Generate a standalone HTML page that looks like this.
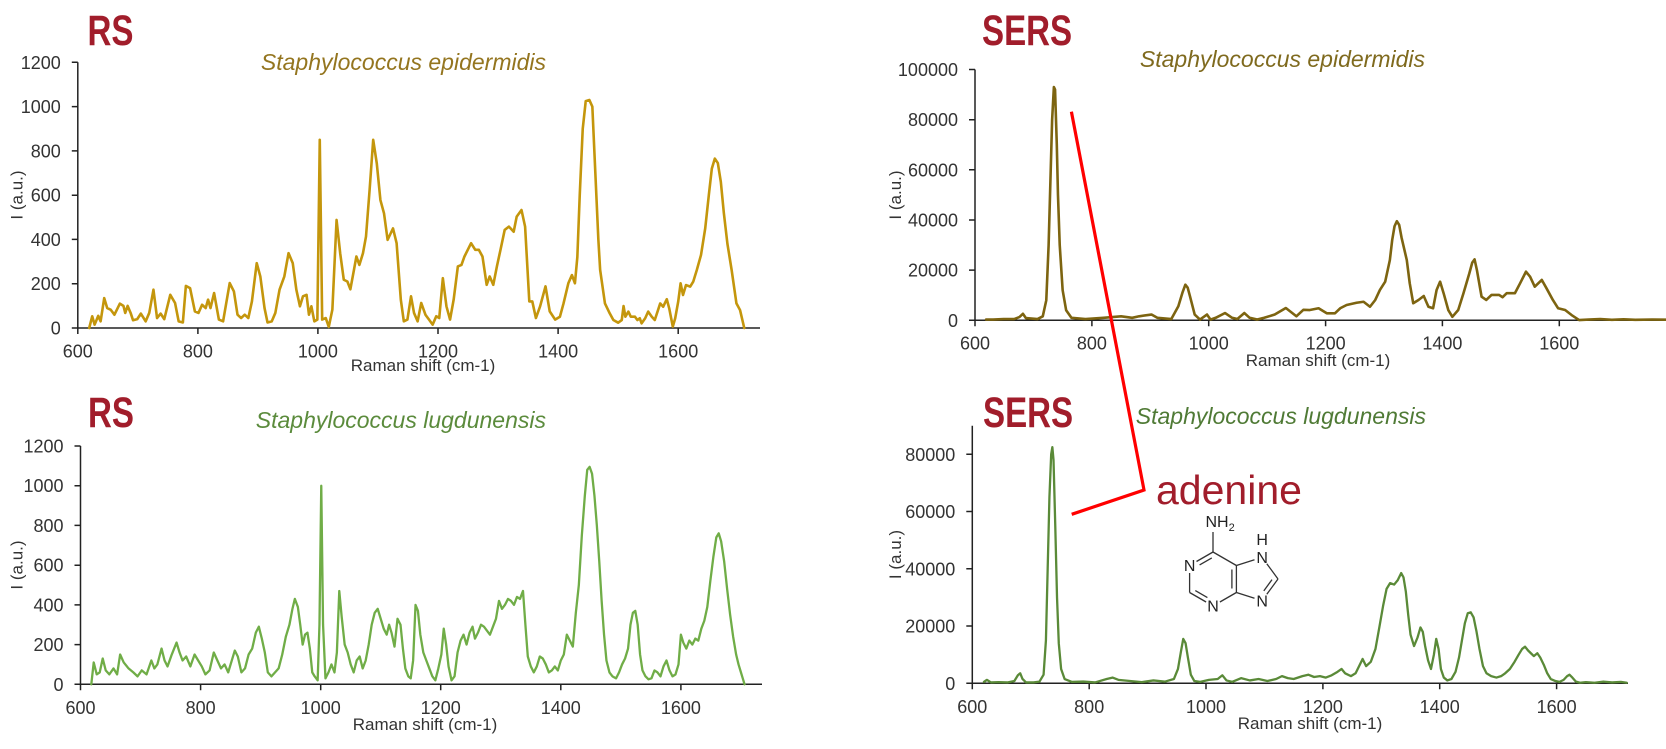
<!DOCTYPE html>
<html>
<head>
<meta charset="utf-8">
<style>
  html,body{margin:0;padding:0;background:#fff;}
  svg{display:block;}
  .tick{font-family:"Liberation Sans",Arial,sans-serif;font-size:18px;fill:#333;}
  .ttl{font-family:"Liberation Sans",Arial,sans-serif;font-size:17px;fill:#333;}
  .sp{font-family:"Liberation Sans",Arial,sans-serif;font-size:23px;font-style:italic;}
  .big{font-family:"Liberation Sans",Arial,sans-serif;font-size:43px;font-weight:bold;fill:#A11D2B;}
  .ax{fill:none;stroke:#222;stroke-width:1.5;}
  .ser{fill:none;stroke-linejoin:round;stroke-linecap:round;}
  .atom{font-family:"Liberation Sans",Arial,sans-serif;font-size:16px;fill:#222;}
  .bd{stroke:#333;stroke-width:1.3;fill:none;}
</style>
</head>
<body>
<svg width="1666" height="749" viewBox="0 0 1666 749">
<rect width="1666" height="749" fill="#fff"/>

<!-- ================= TOP LEFT ================= -->
<text class="big" transform="translate(87.5,45) scale(0.77,1)">RS</text>
<text class="sp" x="546" y="70" text-anchor="end" fill="#94751F">Staphylococcus epidermidis</text>
<path class="ax" d="M77.8 62.3 V328 H760 M71.8 62.3H77.8 M71.8 106.6H77.8 M71.8 150.9H77.8 M71.8 195.2H77.8 M71.8 239.4H77.8 M71.8 283.7H77.8 M71.8 328H77.8 M77.8 328V334 M197.9 328V334 M317.9 328V334 M438 328V334 M558.1 328V334 M678.2 328V334"/>
<g class="tick" text-anchor="end">
<text x="60.8" y="334.5">0</text><text x="60.8" y="290.2">200</text><text x="60.8" y="245.9">400</text><text x="60.8" y="201.7">600</text><text x="60.8" y="157.4">800</text><text x="60.8" y="113.1">1000</text><text x="60.8" y="68.8">1200</text>
</g>
<g class="tick" text-anchor="middle">
<text x="77.8" y="357.5">600</text><text x="197.9" y="357.5">800</text><text x="317.9" y="357.5">1000</text><text x="438" y="357.5">1200</text><text x="558.1" y="357.5">1400</text><text x="678.2" y="357.5">1600</text>
</g>
<text class="ttl" x="423" y="371" text-anchor="middle">Raman shift (cm-1)</text>
<text class="ttl" transform="translate(22.5,195) rotate(-90)" text-anchor="middle">I (a.u.)</text>
<g transform="translate(-282.44,328) scale(0.6004,-0.2214)">
<polyline class="ser" vector-effect="non-scaling-stroke" stroke="#C4960C" stroke-width="2.6" points="619,0 624,53 628,15 634,55 638,30 644,135 649,90 655,82 661,60 670,110 676,100 679,68 683,100 688,68 692,35 699,40 705,65 713,30 719,68 726,173 732,45 738,65 744,40 754,150 762,113 768,30 775,25 780,190 787,180 795,75 801,68 807,105 813,90 817,128 821,90 827,158 835,38 842,30 853,203 860,165 866,60 872,45 878,60 884,45 890,120 898,293 904,233 911,90 916,25 923,30 929,68 936,173 944,233 951,338 958,293 964,173 970,98 975,143 981,150 985,60 989,98 994,30 999,38 1003,850 1007,38 1013,45 1018,5 1024,83 1031,488 1037,338 1043,218 1049,210 1054,175 1060,263 1064,323 1069,285 1075,338 1080,413 1086,623 1092,850 1098,743 1104,578 1110,518 1116,398 1125,450 1131,383 1138,128 1143,30 1149,38 1155,143 1160,68 1166,30 1172,113 1179,60 1185,38 1191,15 1197,53 1202,45 1208,225 1214,98 1220,38 1226,128 1233,278 1239,285 1244,323 1255,383 1262,353 1268,353 1274,323 1281,195 1286,233 1292,195 1298,278 1304,353 1311,443 1318,458 1326,435 1331,503 1339,533 1345,458 1352,120 1357,120 1363,45 1370,98 1379,188 1386,75 1395,38 1403,51 1409,111 1417,202 1423,239 1428,202 1432,320 1436,600 1441,900 1446,1025 1452,1030 1457,1000 1462,700 1467,400 1470,262 1478,111 1486,66 1492,36 1500,24 1506,36 1509,99 1512,51 1517,74 1521,51 1528,51 1532,36 1536,44 1539,21 1545,44 1550,74 1556,51 1561,36 1570,111 1575,96 1581,130 1585,89 1591,6 1595,44 1600,119 1604,202 1608,149 1613,194 1620,187 1625,209 1631,262 1638,330 1645,450 1651,600 1656,720 1661,765 1666,745 1671,660 1676,520 1682,380 1689,262 1697,111 1703,81 1710,0"/>
</g>

<!-- ================= TOP RIGHT ================= -->
<text class="big" transform="translate(982,45) scale(0.77,1)">SERS</text>
<text class="sp" x="1425" y="67" text-anchor="end" fill="#7F6A1E">Staphylococcus epidermidis</text>
<path class="ax" d="M975 69.5 V320.3 H1666 M969 69.5H975 M969 119.7H975 M969 169.8H975 M969 220H975 M969 270.1H975 M969 320.3H975 M975 320.3V326.3 M1091.9 320.3V326.3 M1208.7 320.3V326.3 M1325.6 320.3V326.3 M1442.4 320.3V326.3 M1559.3 320.3V326.3"/>
<g class="tick" text-anchor="end">
<text x="958" y="326.8">0</text><text x="958" y="276.6">20000</text><text x="958" y="226.5">40000</text><text x="958" y="176.3">60000</text><text x="958" y="126.2">80000</text><text x="958" y="76">100000</text>
</g>
<g class="tick" text-anchor="middle">
<text x="975" y="349.5">600</text><text x="1091.9" y="349.5">800</text><text x="1208.7" y="349.5">1000</text><text x="1325.6" y="349.5">1200</text><text x="1442.4" y="349.5">1400</text><text x="1559.3" y="349.5">1600</text>
</g>
<text class="ttl" x="1318" y="366" text-anchor="middle">Raman shift (cm-1)</text>
<text class="ttl" transform="translate(901,195) rotate(-90)" text-anchor="middle">I (a.u.)</text>
<g transform="translate(624.42,320.3) scale(0.5843,-2.508)">
<polyline class="ser" vector-effect="non-scaling-stroke" stroke="#7D6410" stroke-width="2.6" points="619,0.3 631,0.3 649,0.5 667,0.5 676,1.3 682,2.6 687,0.9 707,0.5 716,1.6 722,8 726,30 729,55 732,80 735,93 737,92 740,70 742,50 745,30 750,12 756,4 765,1 789,0.5 820,1 850,1.6 869,1 881,1.6 902,2.3 912,1 936,0.5 948,5.6 955,11 960,14.2 964,13 968,9.5 976,2.3 985,0.3 997,2.3 1003,0.3 1012,1 1028,2.9 1040,1 1049,0.5 1061,2.9 1070,1 1083,0.3 1095,1 1113,2.3 1132,4.9 1150,1.6 1162,4.2 1173,4.1 1188,4.8 1202,2.8 1216,2.8 1225,4.8 1236,6.1 1253,7 1265,7.4 1276,5.4 1285,8.1 1293,12.1 1302,15.4 1310,24 1314,32 1318,37.5 1322,39.5 1326,38 1330,33 1335,28 1339,24 1344,14.8 1350,6.8 1359,8.1 1368,9.7 1376,5.4 1384,4.8 1390,12.1 1396,15.4 1402,10.8 1410,4.1 1417,1.4 1427,4.1 1436,10.8 1446,18.7 1451,23 1455,24.3 1459,20 1467,9.4 1475,8.1 1484,10.1 1497,10.1 1503,9.2 1510,10.8 1524,10.8 1533,14.8 1543,19.4 1550,17.4 1558,13.4 1570,16.1 1578,12.8 1589,8.1 1598,4.8 1610,4.1 1621,2.1 1634,0.1 1650,0.3 1670,0.5 1690,0.2 1710,0.4 1730,0.2 1760,0.3 1790,0.2 1820,0.2"/>
</g>

<!-- ================= BOTTOM LEFT ================= -->
<text class="big" transform="translate(88,427) scale(0.77,1)">RS</text>
<text class="sp" x="546" y="428" text-anchor="end" fill="#5B8B3C">Staphylococcus lugdunensis</text>
<path class="ax" d="M80.5 446 V684.3 H762 M74.5 446H80.5 M74.5 485.7H80.5 M74.5 525.4H80.5 M74.5 565.2H80.5 M74.5 604.9H80.5 M74.5 644.6H80.5 M74.5 684.3H80.5 M80.5 684.3V690.3 M200.6 684.3V690.3 M320.7 684.3V690.3 M440.7 684.3V690.3 M560.8 684.3V690.3 M680.9 684.3V690.3"/>
<g class="tick" text-anchor="end">
<text x="63.5" y="690.8">0</text><text x="63.5" y="651.1">200</text><text x="63.5" y="611.4">400</text><text x="63.5" y="571.7">600</text><text x="63.5" y="531.9">800</text><text x="63.5" y="492.2">1000</text><text x="63.5" y="452.5">1200</text>
</g>
<g class="tick" text-anchor="middle">
<text x="80.5" y="713.8">600</text><text x="200.6" y="713.8">800</text><text x="320.7" y="713.8">1000</text><text x="440.7" y="713.8">1200</text><text x="560.8" y="713.8">1400</text><text x="680.9" y="713.8">1600</text>
</g>
<text class="ttl" x="425" y="730" text-anchor="middle">Raman shift (cm-1)</text>
<text class="ttl" transform="translate(22.7,565) rotate(-90)" text-anchor="middle">I (a.u.)</text>
<g transform="translate(-279.74,684.3) scale(0.6004,-0.19858)">
<polyline class="ser" vector-effect="non-scaling-stroke" stroke="#70AD47" stroke-width="2.3" points="618,0 622,110 627,50 632,60 637,130 642,70 648,50 655,80 661,50 666,150 672,110 680,80 688,60 695,40 702,70 710,50 718,120 723,80 728,100 735,180 740,120 745,90 752,150 760,210 765,160 770,120 776,140 783,90 790,150 796,120 802,90 808,50 815,70 822,160 828,120 834,80 840,100 846,60 852,120 857,170 862,140 868,60 874,80 880,150 886,180 892,260 897,290 902,230 907,160 912,60 918,40 924,60 930,80 936,150 942,240 948,300 953,380 957,430 962,390 966,300 970,200 974,250 978,260 982,180 986,60 990,40 995,20 998,300 1001,1000 1004,300 1008,30 1013,60 1018,100 1023,60 1027,160 1031,470 1035,340 1040,200 1045,160 1050,100 1055,60 1060,120 1065,140 1070,80 1075,120 1080,200 1085,300 1090,360 1095,380 1100,330 1105,280 1110,250 1114,300 1118,260 1123,190 1128,330 1133,300 1137,180 1141,80 1146,40 1150,30 1154,120 1158,400 1162,370 1166,250 1171,160 1176,120 1181,80 1186,40 1191,20 1196,80 1201,150 1205,280 1209,200 1213,90 1218,20 1223,40 1228,160 1233,220 1238,250 1243,200 1248,260 1253,290 1257,230 1262,260 1267,300 1272,290 1277,270 1282,250 1287,290 1292,330 1297,420 1302,380 1307,400 1312,430 1317,420 1322,400 1327,440 1332,430 1337,470 1341,300 1345,140 1350,90 1355,60 1360,90 1365,140 1370,130 1375,100 1380,60 1385,70 1390,90 1395,70 1400,120 1405,150 1410,250 1415,220 1420,190 1425,360 1430,500 1435,750 1440,950 1444,1080 1448,1095 1452,1060 1456,950 1460,800 1464,620 1468,420 1472,250 1476,120 1481,60 1486,40 1492,30 1497,60 1502,100 1507,130 1512,180 1516,300 1520,360 1524,370 1528,300 1532,150 1536,70 1541,40 1546,25 1551,30 1556,70 1561,60 1566,40 1571,90 1576,120 1581,70 1586,40 1591,50 1596,100 1600,250 1604,210 1609,180 1614,220 1619,200 1624,230 1629,220 1634,280 1639,320 1644,390 1649,520 1654,640 1659,740 1663,760 1667,720 1672,620 1677,480 1682,350 1687,240 1692,150 1696,100 1700,60 1703,30 1706,0"/>
</g>

<!-- ================= BOTTOM RIGHT ================= -->
<text class="big" transform="translate(983,427) scale(0.77,1)">SERS</text>
<text class="sp" x="1426" y="424" text-anchor="end" fill="#4F7A35">Staphylococcus lugdunensis</text>
<path class="ax" d="M972.3 425.7 V683.3 H1628 M966.3 454.3H972.3 M966.3 511.55H972.3 M966.3 568.8H972.3 M966.3 626.05H972.3 M966.3 683.3H972.3 M972.3 683.3V689.3 M1089.2 683.3V689.3 M1206 683.3V689.3 M1322.9 683.3V689.3 M1439.7 683.3V689.3 M1556.6 683.3V689.3"/>
<g class="tick" text-anchor="end">
<text x="955.3" y="689.8">0</text><text x="955.3" y="632.6">20000</text><text x="955.3" y="575.3">40000</text><text x="955.3" y="518.1">60000</text><text x="955.3" y="460.8">80000</text>
</g>
<g class="tick" text-anchor="middle">
<text x="972.3" y="712.8">600</text><text x="1089.2" y="712.8">800</text><text x="1206" y="712.8">1000</text><text x="1322.9" y="712.8">1200</text><text x="1439.7" y="712.8">1400</text><text x="1556.6" y="712.8">1600</text>
</g>
<text class="ttl" x="1310" y="729" text-anchor="middle">Raman shift (cm-1)</text>
<text class="ttl" transform="translate(901,554.5) rotate(-90)" text-anchor="middle">I (a.u.)</text>
<g transform="translate(621.72,683.3) scale(0.5843,-2.8625)">
<polyline class="ser" vector-effect="non-scaling-stroke" stroke="#5A8A38" stroke-width="2.3" points="620,0.5 625,1.2 632,0.3 645,0.4 660,0.3 672,0.8 678,2.8 682,3.5 686,1.5 692,0.3 705,0.3 715,0.6 722,3 726,15 729,40 732,65 735,80 737,82.5 739,78 742,55 745,30 748,14 752,5 758,1.5 770,0.5 790,0.6 810,0.3 830,1.5 840,2 850,1.2 870,0.8 890,0.4 910,1 930,0.6 945,1.5 952,5 957,11 961,15.5 965,14 969,9 974,3 980,0.8 990,0.5 1005,1.2 1020,1.5 1028,2.8 1035,1 1045,0.5 1060,1.8 1075,1 1090,1.5 1105,0.8 1120,1.5 1130,2.5 1140,1.8 1150,1.5 1165,2.5 1175,3 1185,2.2 1195,2.5 1205,2 1215,2.8 1225,4 1232,5 1238,3.5 1248,2.5 1256,3.5 1262,6 1268,8.5 1274,6 1282,7.5 1290,12 1297,20 1303,27 1309,33 1315,35 1322,34.5 1328,36 1334,38.5 1338,37 1342,32 1346,24 1350,17 1356,13 1362,16 1367,19.5 1371,18 1375,13 1380,8 1385,5 1390,10 1394,15.5 1398,12 1402,5 1407,2 1413,1 1420,1.5 1427,4 1433,9 1438,15 1443,21 1448,24.5 1453,24.8 1458,23 1463,18 1468,12 1474,6 1480,3.5 1488,2.5 1497,2 1505,2.5 1512,3.5 1520,5 1528,7.5 1535,10 1541,12 1546,12.8 1551,11.5 1556,10.5 1561,9.5 1567,10.5 1572,9 1578,6.5 1584,3.5 1590,1.5 1598,0.8 1605,0.5 1612,1.2 1618,2.5 1622,3 1627,2 1633,0.6 1640,0.2 1650,0.4 1665,0.2 1680,0.6 1695,0.3 1710,0.5 1720,0.2"/>
</g>

<!-- ================= Red annotation ================= -->
<polyline points="1071.4,111.7 1144,490 1071.7,514.3" fill="none" stroke="#FF0000" stroke-width="3.2" stroke-linejoin="miter"/>
<text x="1156" y="504" font-family="Liberation Sans, Arial, sans-serif" font-size="41" fill="#A11D2B">adenine</text>

<!-- ================= Adenine structure ================= -->
<g>
<path class="bd" d="M1213 552 V532"/>
<path class="bd" d="M1213 552 L1196.5 561.5"/>
<path class="bd" d="M1211.8 557.9 L1199.6 564.9"/>
<path class="bd" d="M1189.6 573 V592.5"/>
<path class="bd" d="M1189.6 592.5 L1206.1 602"/>
<path class="bd" d="M1195.3 590.6 L1207.4 597.6"/>
<path class="bd" d="M1219.9 602 L1236.4 592.5"/>
<path class="bd" d="M1236.4 592.5 V565.5"/>
<path class="bd" d="M1231.9 569.5 V588.5"/>
<path class="bd" d="M1236.4 565.5 L1213 552"/>
<path class="bd" d="M1236.4 565.5 L1254.5 559.7"/>
<path class="bd" d="M1266.8 563.7 L1278 579"/>
<path class="bd" d="M1278 579 L1266.8 594.3"/>
<path class="bd" d="M1272 579.6 L1263.8 590.9"/>
<path class="bd" d="M1254.5 598.3 L1236.4 592.5"/>
<text class="atom" x="1205.5" y="527">NH<tspan font-size="11" dy="4">2</tspan></text>
<text class="atom" x="1189.6" y="571.2" text-anchor="middle">N</text>
<text class="atom" x="1213" y="611.7" text-anchor="middle">N</text>
<text class="atom" x="1262.1" y="606.5" text-anchor="middle">N</text>
<text class="atom" x="1262.1" y="562.9" text-anchor="middle">N</text>
<text class="atom" x="1262.1" y="545" text-anchor="middle">H</text>
</g>
</svg>
</body>
</html>
